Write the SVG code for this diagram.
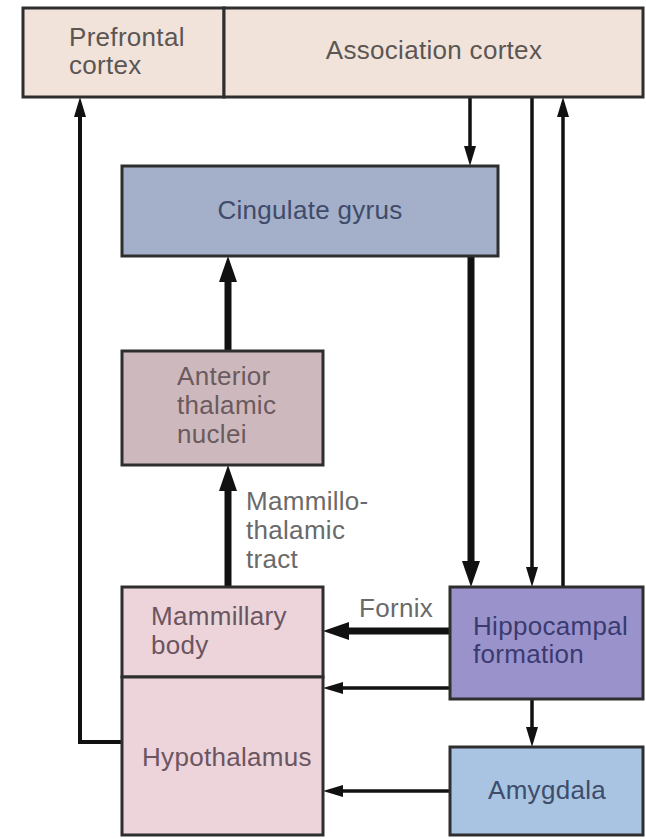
<svg xmlns="http://www.w3.org/2000/svg" width="646" height="839" viewBox="0 0 646 839">
<style>
  text { font-family: "Liberation Sans", Arial, sans-serif; font-size: 26px; letter-spacing: 0.3px; }
  .box { stroke: #2e2e2e; stroke-width: 3; }
  .thin { fill: none; stroke: #111; stroke-width: 3.5; }
  .thick { fill: none; stroke: #111; stroke-width: 7; }
  .lbl { fill: #6a6a6a; }
</style>
<defs>
  <marker id="ah" markerUnits="userSpaceOnUse" markerWidth="24" markerHeight="16" refX="0" refY="8" orient="auto" overflow="visible">
    <path d="M0,2 L20,8 L0,14 Z" fill="#111"/>
  </marker>
  <marker id="ahk" markerUnits="userSpaceOnUse" markerWidth="30" markerHeight="20" refX="0" refY="9" orient="auto" overflow="visible">
    <path d="M0,0 L26,9 L0,18 Z" fill="#111"/>
  </marker>
</defs>
<rect x="0" y="0" width="646" height="839" fill="#ffffff"/>

<g id="connectors">
  <path class="thin" d="M470,97 V146" marker-end="url(#ah)"/>
  <path class="thin" d="M532,97 V567" marker-end="url(#ah)"/>
  <path class="thin" d="M563,587 V117" marker-end="url(#ah)"/>
  <path class="thick" d="M471,256 V561" marker-end="url(#ahk)"/>
  <path class="thick" d="M228,351 V282" marker-end="url(#ahk)"/>
  <path class="thick" d="M228,587 V491" marker-end="url(#ahk)"/>
  <path class="thin" style="stroke-width:4" d="M122,742 H80 V117" marker-end="url(#ah)"/>
  <path class="thick" d="M450,631 H349" marker-end="url(#ahk)"/>
  <path class="thin" d="M450,688 H343" marker-end="url(#ah)"/>
  <path class="thin" d="M532,699 V727" marker-end="url(#ah)"/>
  <path class="thin" d="M450,791 H343" marker-end="url(#ah)"/>
  <text class="lbl" x="246" y="510">Mammillo-</text>
  <text class="lbl" x="246" y="539">thalamic</text>
  <text class="lbl" x="246" y="568">tract</text>
  <text class="lbl" x="359" y="617">Fornix</text>
</g>

<g id="prefrontal-cortex">
  <rect class="box" x="23" y="8" width="201" height="89" fill="#f2e3da"/>
  <text x="69" y="46" fill="#5a5654">Prefrontal</text>
  <text x="69" y="74" fill="#5a5654">cortex</text>
</g>
<g id="association-cortex">
  <rect class="box" x="224" y="8" width="419" height="89" fill="#f2e3da"/>
  <text x="434" y="59" text-anchor="middle" fill="#5a5654">Association cortex</text>
</g>
<g id="cingulate-gyrus">
  <rect class="box" x="122" y="166" width="376" height="90" fill="#a4afc9"/>
  <text x="310" y="219" text-anchor="middle" fill="#3f4b68">Cingulate gyrus</text>
</g>
<g id="anterior-thalamic-nuclei">
  <rect class="box" x="122" y="351" width="201" height="114" fill="#cdb9bd"/>
  <text x="177" y="385" fill="#6b5a5e">Anterior</text>
  <text x="177" y="414" fill="#6b5a5e">thalamic</text>
  <text x="177" y="443" fill="#6b5a5e">nuclei</text>
</g>
<g id="mammillary-body">
  <rect class="box" x="122" y="587" width="201" height="90" fill="#ecd4da"/>
  <text x="151" y="625" fill="#6b5560">Mammillary</text>
  <text x="151" y="654" fill="#6b5560">body</text>
</g>
<g id="hypothalamus">
  <rect class="box" x="122" y="677" width="201" height="158" fill="#ecd4da"/>
  <text x="142" y="766" fill="#6b5560">Hypothalamus</text>
</g>
<g id="hippocampal-formation">
  <rect class="box" x="450" y="587" width="193" height="112" fill="#9a93cb"/>
  <text x="473" y="635" fill="#3b3a70">Hippocampal</text>
  <text x="473" y="663" fill="#3b3a70">formation</text>
</g>
<g id="amygdala">
  <rect class="box" x="450" y="747" width="193" height="88" fill="#a9c4e2"/>
  <text x="488" y="799" fill="#3d4d6a">Amygdala</text>
</g>
</svg>
